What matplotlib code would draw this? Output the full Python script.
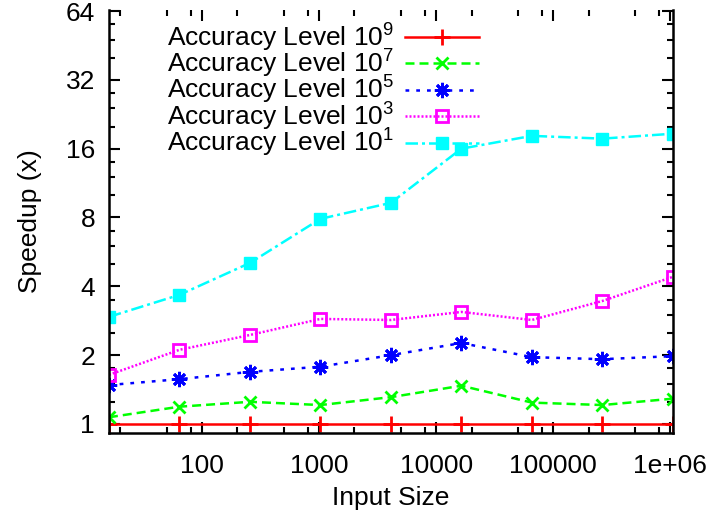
import numpy as np
import matplotlib.pyplot as plt
from matplotlib.ticker import LogLocator, FixedLocator, FixedFormatter, NullFormatter

plt.rcParams['font.family'] = ['Liberation Sans', 'DejaVu Sans']
plt.rcParams['mathtext.fontset'] = 'custom'
plt.rcParams['mathtext.rm'] = 'Liberation Sans'
plt.rcParams['mathtext.it'] = 'Liberation Sans'

# Data
input_size = [16, 64, 256, 1024, 4096, 16384, 65536, 262144, 1048576]
acc_1e9 = [1.0, 1.0, 1.0, 1.0, 1.0, 1.0, 1.0, 1.0, 1.0]
acc_1e7 = [1.07, 1.19, 1.25, 1.21, 1.31, 1.47, 1.24, 1.21, 1.29]
acc_1e5 = [1.48, 1.57, 1.69, 1.78, 2.00, 2.26, 1.96, 1.92, 1.98]
acc_1e3 = [1.64, 2.11, 2.45, 2.88, 2.85, 3.09, 2.85, 3.45, 4.40]
acc_1e1 = [2.94, 3.67, 5.06, 7.89, 9.27, 16.0, 18.2, 17.7, 18.6]

x_ticks = [100, 1000, 10000, 100000, 1000000]
x_tick_labels = ['100', '1000', '10000', '100000', '1e+06']
y_ticks = [1, 2, 4, 8, 16, 32, 64]
y_tick_labels = ['1', '2', '4', '8', '16', '32', '64']

fig = plt.figure(figsize=(7.12, 5.13), dpi=100)
ax = fig.add_axes([0.153, 0.156, 0.792, 0.8245])

fs = 19
lw = 1.8
ax.plot(input_size, acc_1e9, color='#ff0000', lw=lw, ls='-', marker='+', ms=11, mew=2,
        label='Accuracy Level $10^9$')
ax.plot(input_size, acc_1e7, color='#00ff00', lw=lw, ls=(0, (3.6, 2.0)), marker='x', ms=9, mew=2,
        label='Accuracy Level $10^7$')
ax.plot(input_size, acc_1e5, color='#0000ff', lw=lw, ls=(0, (1.5, 2.8)), marker=(8, 2, 0), ms=11, mew=2,
        label='Accuracy Level $10^5$')
ax.plot(input_size, acc_1e3, color='#ff00ff', lw=lw, ls=(0, (0.8, 0.8)), marker='s', ms=9, mew=2,
        mfc='none', label='Accuracy Level $10^3$')
ax.plot(input_size, acc_1e1, color='#00ffff', lw=lw, ls=(0, (5, 1.6, 1.2, 1.6)), marker='s', ms=9,
        label='Accuracy Level $10^1$')

ax.set_xscale('log')
ax.set_yscale('log', base=2)
ax.set_xlim(16, 1048576)
ax.set_ylim(2 ** (-9 / 68.8), 64 * 2 ** (1 / 68.8))

ax.xaxis.set_major_locator(FixedLocator(x_ticks))
ax.xaxis.set_major_formatter(FixedFormatter(x_tick_labels))
ax.xaxis.set_minor_locator(LogLocator(base=10, subs=[2, 5, 8]))
ax.xaxis.set_minor_formatter(NullFormatter())
ax.yaxis.set_major_locator(FixedLocator(y_ticks))
ax.yaxis.set_major_formatter(FixedFormatter(y_tick_labels))
ax.yaxis.set_minor_locator(LogLocator(base=2, subs=[1.25, 1.5, 1.75]))
ax.yaxis.set_minor_formatter(NullFormatter())

ax.tick_params(which='both', direction='in', top=True, right=True, width=1.5, labelsize=fs)
ax.tick_params(which='major', length=8)
ax.tick_params(which='minor', length=4)
ax.tick_params(axis='y', which='major', pad=10)
ax.tick_params(axis='x', which='major', pad=15)
ax.spines['top'].set_visible(False)
for s in ['left', 'right', 'bottom']:
    ax.spines[s].set_linewidth(1.8)

ax.set_xlabel('Input Size', fontsize=fs, labelpad=6)
ax.set_ylabel('Speedup (x)', fontsize=fs, labelpad=17)

ax.legend(loc='upper left', bbox_to_anchor=(0.103, 0.973), frameon=False, fontsize=fs,
          markerfirst=False, handlelength=2.8, handletextpad=0.4, labelspacing=-0.22,
          borderpad=0.0, borderaxespad=0.0)

fig.savefig('out.png', dpi=100)
